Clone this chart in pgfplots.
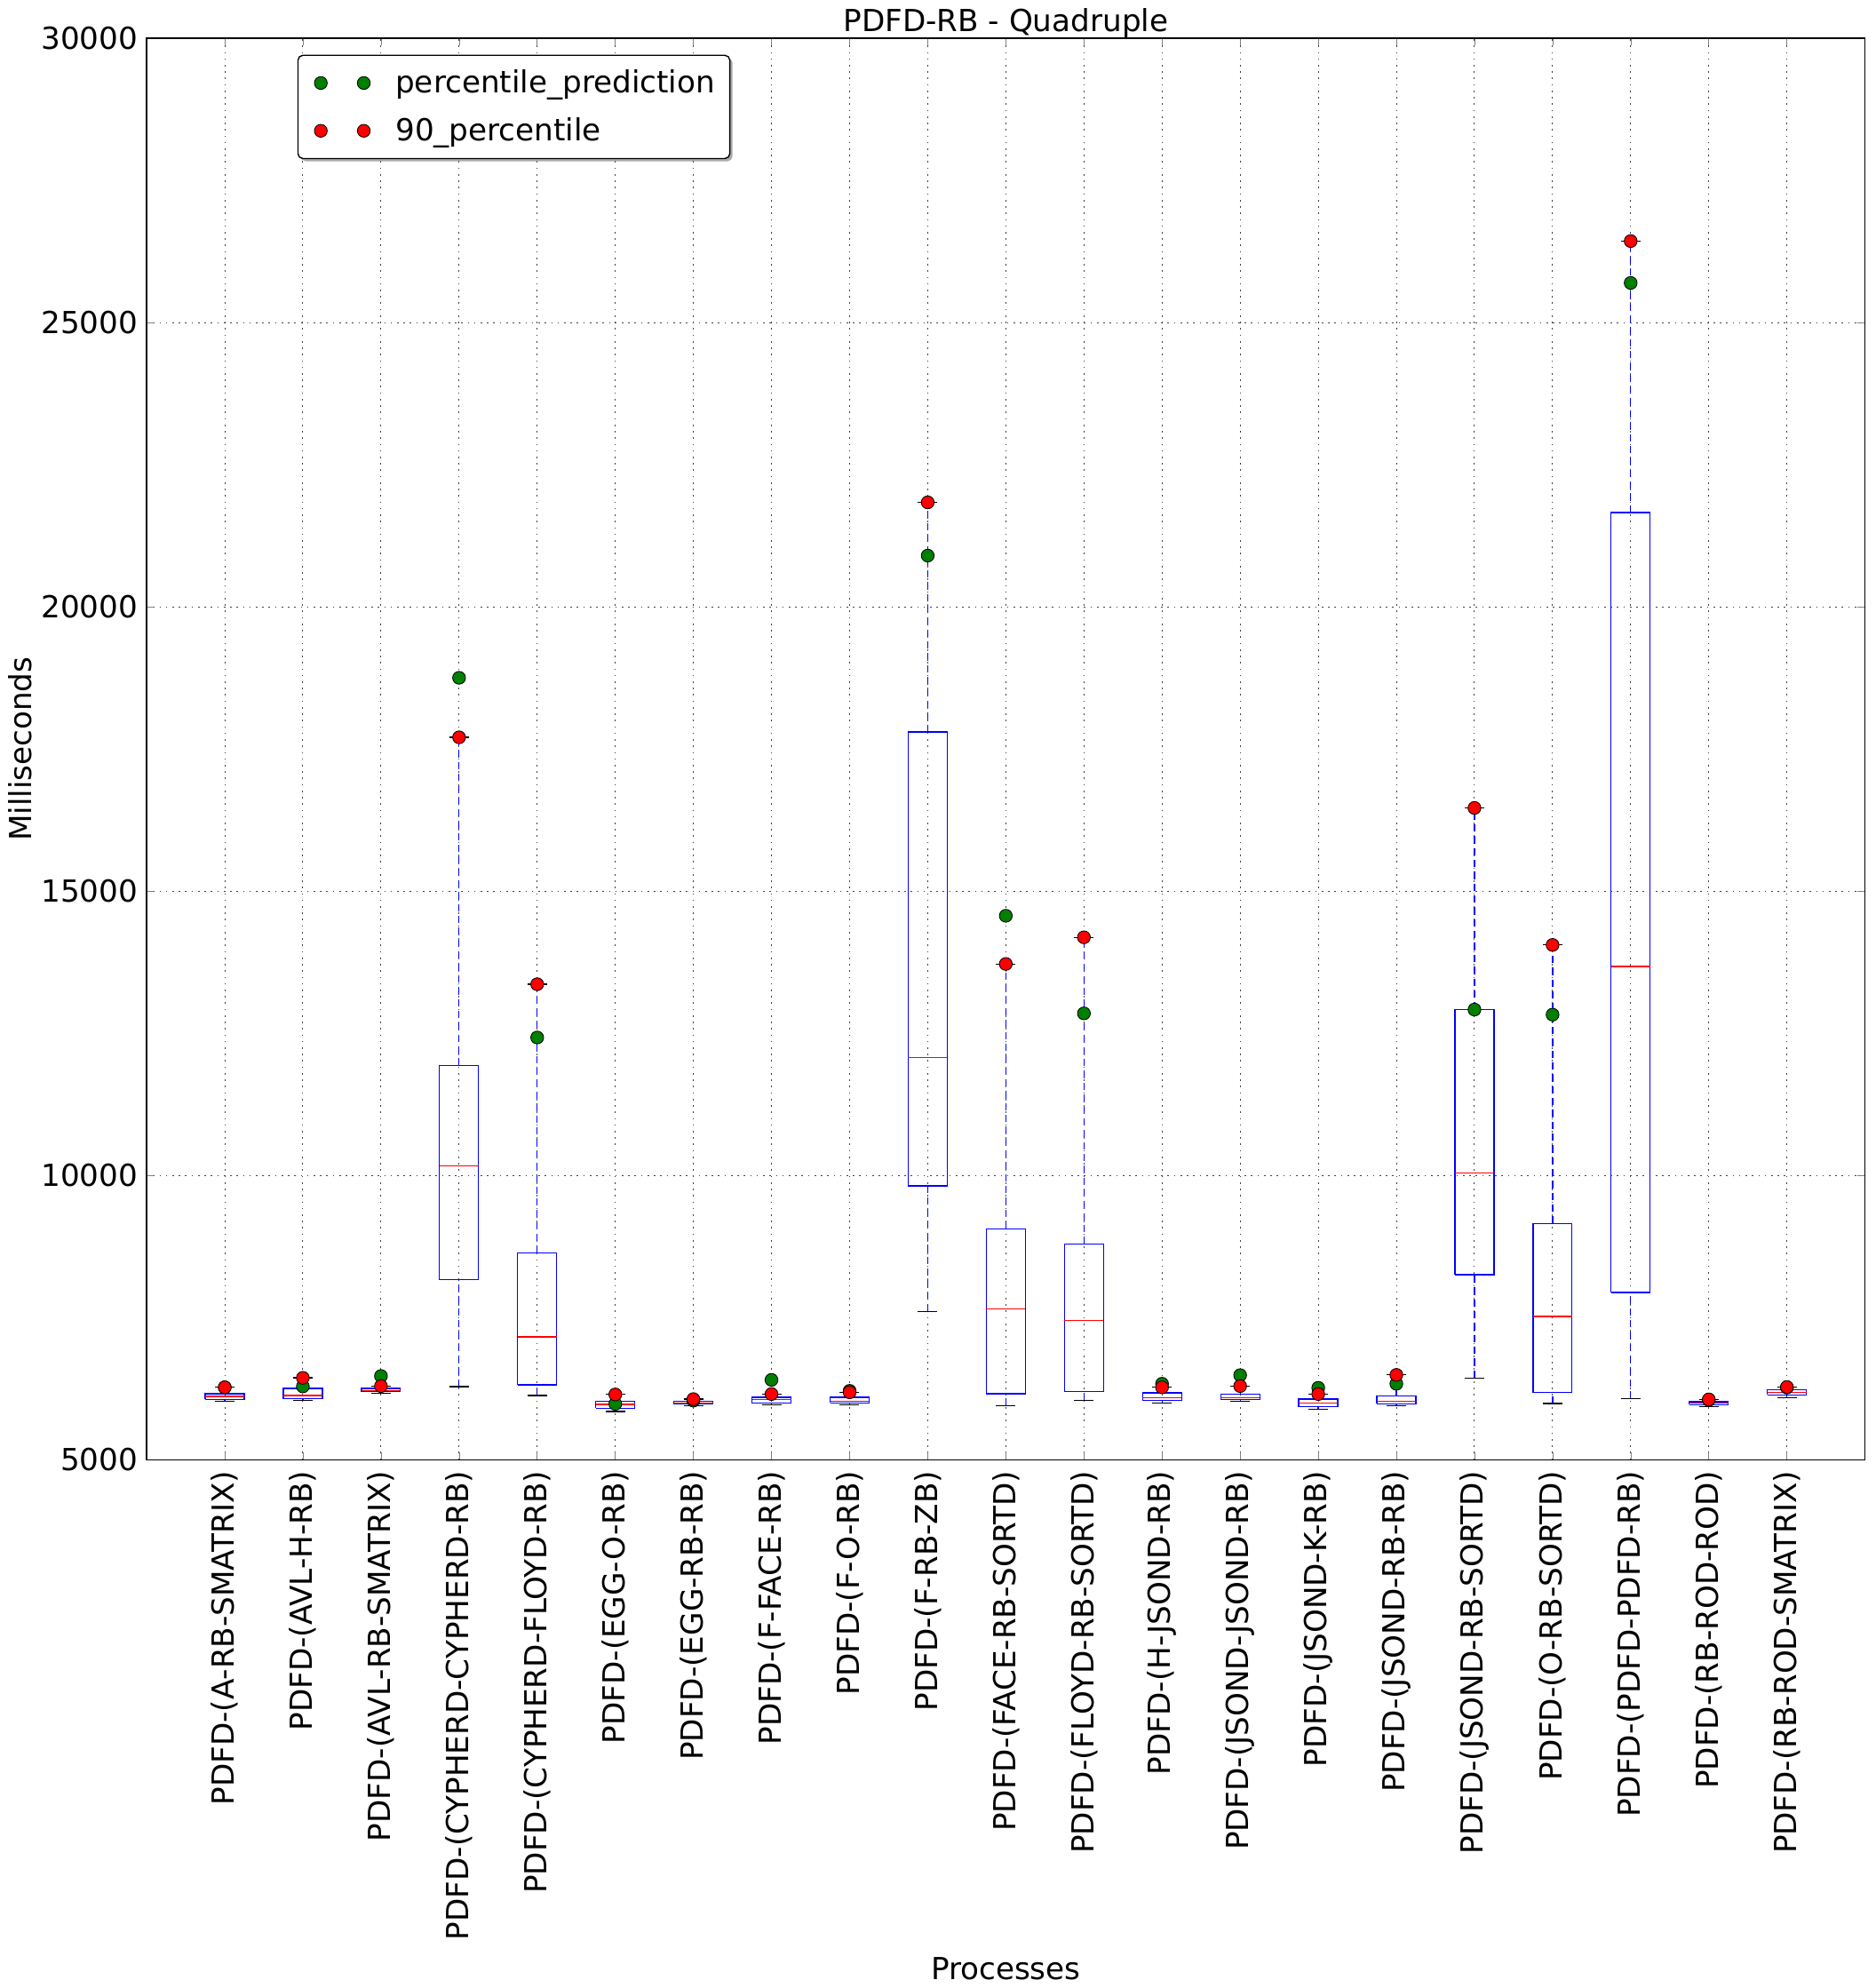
\documentclass[border=0pt]{standalone}
\usepackage{pgfplots}
\pgfplotsset{compat=1.18}
\usetikzlibrary{shadows}
\usepackage{fontspec}
\setmainfont{DejaVu Sans}
\definecolor{mplgreen}{rgb}{0,0.5,0}
\newcommand{\fs}{\fontsize{12.3}{14.5}\selectfont}
\pgfplotsset{
  twomarks/.style={legend image code/.code={\path (-5pt,0pt) (28pt,0pt); \draw[##1, mark repeat=1] plot coordinates {(0pt,0pt) (17.4pt,0pt)};}},
}
\newcommand{\bx}[6]{%
  \pgfmathsetmacro\bxl{#1-0.25}\pgfmathsetmacro\bxr{#1+0.25}%
  \pgfmathsetmacro\bcl{#1-0.125}\pgfmathsetmacro\bcr{#1+0.125}%
  \edef\bxtemp{%
  \noexpand\addplot[blue, line width=0.45pt, mark=none, forget plot] coordinates {(\bxl,#3) (\bxr,#3) (\bxr,#5) (\bxl,#5) (\bxl,#3)};
  \noexpand\addplot[red, line width=0.45pt, mark=none, forget plot] coordinates {(\bxl,#4) (\bxr,#4)};
  \noexpand\addplot[blue, dash pattern=on 3pt off 1.8pt, line width=0.45pt, mark=none, forget plot] coordinates {(#1,#2) (#1,#3)};
  \noexpand\addplot[blue, dash pattern=on 3pt off 1.8pt, line width=0.45pt, mark=none, forget plot] coordinates {(#1,#5) (#1,#6)};
  \noexpand\addplot[black, line width=0.45pt, mark=none, forget plot] coordinates {(\bcl,#2) (\bcr,#2)};
  \noexpand\addplot[black, line width=0.45pt, mark=none, forget plot] coordinates {(\bcl,#6) (\bcr,#6)};
  }\bxtemp}
\begin{document}
\begin{tikzpicture}
\begin{axis}[
  scale only axis,
  width=695.8pt, height=575.6pt,
  xmin=0, xmax=22, ymin=5000, ymax=30000,
  ytick={5000,10000,15000,20000,25000,30000},
  xtick={1,...,21},
  xticklabels={PDFD-(A-RB-SMATRIX),PDFD-(AVL-H-RB),PDFD-(AVL-RB-SMATRIX),PDFD-(CYPHERD-CYPHERD-RB),PDFD-(CYPHERD-FLOYD-RB),PDFD-(EGG-O-RB),PDFD-(EGG-RB-RB),PDFD-(F-FACE-RB),PDFD-(F-O-RB),PDFD-(F-RB-ZB),PDFD-(FACE-RB-SORTD),PDFD-(FLOYD-RB-SORTD),PDFD-(H-JSOND-RB),PDFD-(JSOND-JSOND-RB),PDFD-(JSOND-K-RB),PDFD-(JSOND-RB-RB),PDFD-(JSOND-RB-SORTD),PDFD-(O-RB-SORTD),PDFD-(PDFD-PDFD-RB),PDFD-(RB-ROD-ROD),PDFD-(RB-ROD-SMATRIX)},
  x tick label style={rotate=90, anchor=east, font=\fs, xshift=-1pt},
  y tick label style={font=\fs},
  /pgf/number format/assume math mode=true,
  /pgf/number format/1000 sep={},
  scaled y ticks=false,
  tick align=inside,
  major tick length=3pt,
  xtick pos=both, ytick pos=both,
  grid=major,
  major grid style={black!75, line width=0.35pt, dash pattern=on 0.6pt off 2pt},
  axis line style={black, line width=0.6pt},
  title={PDFD-RB - Quadruple},
  title style={font=\fs, yshift=-9.3pt},
  xlabel={Processes},
  ylabel={Milliseconds},
  xlabel style={font=\fs},
  ylabel style={font=\fs, yshift=-3pt},
  legend style={at={(0.0877,0.9884)}, anchor=north west, font=\fs, draw=black, line width=0.5pt, rounded corners=2pt, fill=white, inner xsep=4pt, inner ysep=3.8pt, row sep=4.5pt, drop shadow={shadow xshift=1.1pt, shadow yshift=-1.1pt, fill=black!55, opacity=0.6}},
  legend cell align=left,
]
\bx{1}{6031}{6062}{6113}{6160}{6274}
\bx{2}{6046}{6071}{6129}{6254}{6441}
\bx{3}{6171}{6196}{6218}{6254}{6296}
\bx{4}{6285}{8165}{10170}{11932}{17705}
\bx{5}{6129}{6316}{7163}{8635}{13363}
\bx{6}{5848}{5906}{5973}{6031}{6149}
\bx{7}{5953}{5978}{5999}{6031}{6067}
\bx{8}{5968}{5993}{6062}{6098}{6156}
\bx{9}{5968}{5999}{6024}{6098}{6187}
\bx{10}{7609}{9817}{12070}{17801}{21837}
\bx{11}{5953}{6160}{7654}{9059}{13720}
\bx{12}{6046}{6204}{7453}{8791}{14188}
\bx{13}{5999}{6046}{6093}{6176}{6274}
\bx{14}{6031}{6056}{6087}{6156}{6296}
\bx{15}{5890}{5931}{5999}{6067}{6156}
\bx{16}{5953}{5984}{6031}{6124}{6493}
\bx{17}{6440}{8256}{10040}{12917}{16463}
\bx{18}{5988}{6182}{7520}{9148}{14054}
\bx{19}{6077}{7944}{13675}{21659}{26432}
\bx{20}{5937}{5968}{5999}{6020}{6062}
\bx{21}{6093}{6140}{6187}{6234}{6280}
\addplot[only marks, mark=*, mark size=2.6pt, mark options={fill=mplgreen, draw=black, line width=0.3pt}, twomarks]
coordinates {(1,6274) (2,6290) (3,6473) (4,18752) (5,12426) (6,5984) (7,6040) (8,6405) (9,6212) (10,20901) (11,14567) (12,12850) (13,6337) (14,6488) (15,6265) (16,6337) (17,12917) (18,12828) (19,25696) (20,6050) (21,6270)};
\addlegendentry{percentile\_prediction}
\addplot[only marks, mark=*, mark size=2.6pt, mark options={fill=red, draw=black, line width=0.3pt}, twomarks]
coordinates {(1,6274) (2,6441) (3,6296) (4,17705) (5,13363) (6,6149) (7,6067) (8,6156) (9,6187) (10,21837) (11,13720) (12,14188) (13,6274) (14,6296) (15,6156) (16,6493) (17,16463) (18,14054) (19,26432) (20,6062) (21,6280)};
\addlegendentry{90\_percentile}
\end{axis}
\path ([xshift=4pt]current axis.outer east);
\end{tikzpicture}
\end{document}
